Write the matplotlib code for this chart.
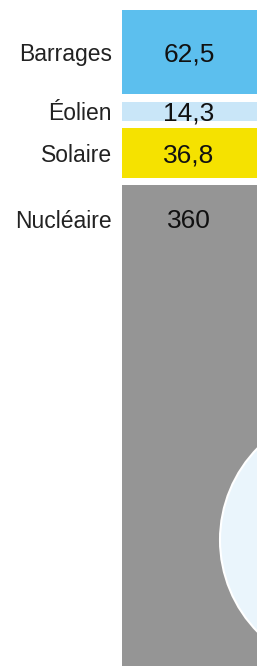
import matplotlib.pyplot as plt
from matplotlib.patches import Circle

# sources d'énergie (TWh)
sources = ["Barrages", "Éolien", "Solaire", "Nucléaire"]
valeurs = [62.5, 14.3, 36.8, 360]
etiquettes = ["62,5", "14,3", "36,8", "360"]
couleurs = ["#5cbfee", "#c9e6f8", "#f5e200", "#959595"]

px = 1.345   # pixels par TWh
gap = 7.5
top = 10

fig = plt.figure(figsize=(2.57, 6.66), dpi=100)
ax = fig.add_axes([0, 0, 1, 1])
ax.set_xlim(0, 257)
ax.set_ylim(666, 0)
ax.axis("off")

y = top
for nom, v, lab, c in zip(sources, valeurs, etiquettes, couleurs):
    h = v * px
    ax.bar(122, h, bottom=y, width=200, align="edge", color=c, linewidth=0)
    # le nucléaire a son texte en haut de la barre
    ty = y + h / 2 + 2 if h < 100 else y + 36
    ax.text(112, ty, nom, ha="right", va="center", fontsize=16.5,
            family="Liberation Sans", color="#222222")
    ax.text(189, ty, lab, ha="center", va="center", fontsize=19,
            family="Liberation Sans", color="#111111")
    y += h + gap

# cercle (coupé au bord)
ax.add_patch(Circle((351, 540), 131, facecolor="#eaf5fc", edgecolor="white",
                    linewidth=1.5, zorder=3))

fig.savefig("out.png", dpi=100)
